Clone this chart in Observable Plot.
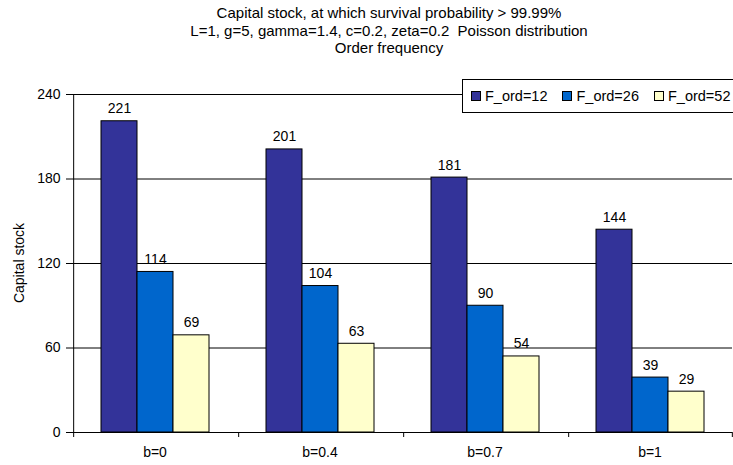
<!DOCTYPE html>
<html>
<head>
<meta charset="utf-8">
<script src="https://cdn.jsdelivr.net/npm/d3@7"></script>
<script src="https://cdn.jsdelivr.net/npm/@observablehq/plot@0.6"></script>
<style>
  html, body { margin: 0; padding: 0; overflow: hidden; background: #fff; }
  #wrap { position: relative; width: 733px; height: 465px; font-family: "Liberation Sans", Arial, sans-serif; font-size: 14px; color: #000; }
  #title { position: absolute; left: 52px; top: 4px; width: 674px; text-align: center; line-height: 17.5px; font-size: 15px; white-space: pre; }
  #ylabel { position: absolute; left: 19px; top: 263px; transform: translate(-50%, -50%) rotate(-90deg); white-space: nowrap; }
  #legend { position: absolute; left: 462px; top: 79px; width: 290px; height: 32px; border: 1px solid #000; background: #fff; display: flex; align-items: center; font-size: 14.5px; }
  .item { display: flex; align-items: center; margin-left: 8px; margin-right: 7px; }
  .sw { width: 8px; height: 8px; border: 1px solid #000; margin-right: 4px; }
  #chart { position: absolute; left: 0; top: 0; }
</style>
</head>
<body>
<div id="wrap">
  <div id="chart"></div>
  <div id="title"></div>
  <div id="ylabel"></div>
  <div id="legend"></div>
</div>
<script>
const titleLines = [
  "Capital stock, at which survival probability > 99.99%",
  "L=1, g=5, gamma=1.4, c=0.2, zeta=0.2  Poisson distribution",
  "Order frequency"
];
const yLabel = "Capital stock";
const categories = ["b=0", "b=0.4", "b=0.7", "b=1"];
const series = ["F_ord=12", "F_ord=26", "F_ord=52"];
const valuesF12 = [221, 201, 181, 144];
const valuesF26 = [114, 104, 90, 39];
const valuesF52 = [69, 63, 54, 29];
const yTicks = [0, 60, 120, 180, 240];
const colors = ["#333399", "#0066CC", "#FFFFCC"];

const seriesValues = [valuesF12, valuesF26, valuesF52];
const data = categories.flatMap((c, i) =>
  series.map((s, j) => ({cat: c, s, v: seriesValues[j][i]}))
);
const firstCat = [{cat: categories[0]}];
const lastCat = [{cat: categories[categories.length - 1]}];
const allCats = categories.map(c => ({cat: c}));

const W = 733, H = 465, mL = 72, mR = 1, mT = 94, mB = 33;
const facetW = (W - mL - mR) / categories.length;
const padOuter = 0.75;
const step = facetW / (series.length + 2 * padOuter);
const edgeOffset = step * padOuter + step / 2;

const chart = Plot.plot({
  width: W, height: H,
  marginTop: mT, marginBottom: mB, marginLeft: mL, marginRight: mR,
  style: {fontFamily: "'Liberation Sans', Arial, sans-serif", fontSize: "14px", color: "#000", background: "transparent"},
  fx: {domain: categories, padding: 0, label: null, axis: "bottom", tickSize: 0, tickPadding: 15},
  x: {domain: series, paddingInner: 0, paddingOuter: padOuter, axis: null},
  y: {domain: [0, 240], ticks: yTicks, tickSize: 6, tickPadding: 6, label: null},
  color: {domain: series, range: colors},
  marks: [
    Plot.ruleY(yTicks.slice(1), {stroke: "#000", strokeWidth: 1}),
    Plot.barY(data, {fx: "cat", x: "s", y: "v", fill: "s", stroke: "#000", strokeWidth: 1}),
    Plot.text(data, {fx: "cat", x: "s", y: "v", text: d => String(d.v), lineAnchor: "bottom", dy: -8, fill: "#000", fontSize: 14}),
    Plot.ruleY([0], {stroke: "#000", strokeWidth: 1}),
    Plot.ruleX(firstCat, {fx: "cat", x: () => series[0], dx: -edgeOffset, y1: 0, y2: 240, stroke: "#000"}),
    Plot.ruleX(allCats, {fx: "cat", x: () => series[0], dx: -edgeOffset, y1: 0, y2: 0, insetBottom: -5, stroke: "#000"}),
    Plot.ruleX(lastCat, {fx: "cat", x: () => series[series.length - 1], dx: edgeOffset, y1: 0, y2: 0, insetBottom: -5, stroke: "#000"})
  ]
});
document.getElementById("chart").appendChild(chart);

document.getElementById("title").innerHTML = titleLines.map(t => `<div>${t}</div>`).join("");
document.getElementById("ylabel").textContent = yLabel;
document.getElementById("legend").innerHTML = series.map((s, i) =>
  `<div class="item"><div class="sw" style="background:${colors[i]}"></div><span>${s}</span></div>`
).join("");
</script>
</body>
</html>
